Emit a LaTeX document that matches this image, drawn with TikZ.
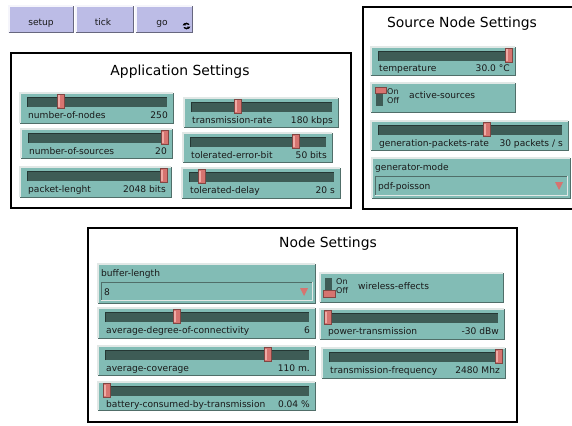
\documentclass[tikz,border=0pt]{standalone}
\usepackage{fontspec}
\setmainfont{DejaVu Sans}
\definecolor{nlteal}{RGB}{130,188,181}
\definecolor{nltrack}{RGB}{62,92,86}
\definecolor{nlthumb}{RGB}{214,116,112}
\definecolor{nlthumbhi}{RGB}{240,170,165}
\definecolor{nlbtn}{RGB}{188,188,230}
\definecolor{nllight}{RGB}{225,232,230}
\definecolor{nldark}{RGB}{80,110,105}
\tikzset{
  x=1pt, y=-1pt,
  grp/.style={draw=black, line width=2pt, fill=white},
  ttl/.style={font=\fontsize{13.9}{16}\selectfont, inner sep=0pt},
  lbl/.style={font=\fontsize{9.1}{11}\selectfont, inner sep=0pt, text=black!90},
  sml/.style={font=\fontsize{8}{8}\selectfont, inner sep=0pt, text=black!90, anchor=west},
  hiedge/.style={draw=nllight, line width=1.2pt},
  loedge/.style={draw=nldark, line width=1pt},
  thumbbox/.style={fill=nlthumb, draw=nlthumb!60!black, line width=0.5pt},
}
% name, x1, y1, x2, y2, thumb x, label, value
\newcommand\nlslider[8]{%
  \fill[nlteal] (#2,#3) rectangle (#4,#5);
  \draw[hiedge] (#2,#5) |- (#4,#3);
  \draw[loedge] (#2,#5) -| (#4,#3);
  \fill[nltrack] (#2+7,#3+4) rectangle (#4-6,#3+14);
  \draw[nltrack!60!black, line width=0.6pt] (#2+7,#3+14) |- (#4-6,#3+4);
  \draw[thumbbox] (#6,#3+1.5) rectangle (#6+7,#3+15);
  \fill[nlthumbhi] (#6+1,#3+2.5) rectangle (#6+2.5,#3+14);
  \node[lbl, anchor=base west] (#1-l) at (#2+8,#3+25) {#7};
  \node[lbl, anchor=base east] (#1-v) at (#4-5,#3+25) {#8};
}
% name, x1, y1, x2, y2, label, on(1)/off(0)
\newcommand\nlswitch[7]{%
  \fill[nlteal] (#2,#3) rectangle (#4,#5);
  \draw[hiedge] (#2,#5) |- (#4,#3);
  \draw[loedge] (#2,#5) -| (#4,#3);
  \fill[nltrack] (#2+5,#3+5) rectangle (#2+12,#3+23);
  \ifnum#7=1
    \draw[thumbbox] (#2+4,#3+4) rectangle (#2+15,#3+10);
  \else
    \draw[thumbbox] (#2+3,#3+17) rectangle (#2+15,#3+24);
  \fi
  \node[sml] (#1-on) at (#2+16,#3+9) {On};
  \node[sml] (#1-off) at (#2+16,#3+18) {Off};
  \node[lbl, anchor=base west] (#1-l) at (#2+38,#3+16) {#6};
}
% name, x1, y1, x2, y2, label, value
\newcommand\nlchooser[7]{%
  \fill[nlteal] (#2,#3) rectangle (#4,#5);
  \draw[hiedge] (#2,#5) |- (#4,#3);
  \draw[loedge] (#2,#5) -| (#4,#3);
  \node[lbl, anchor=base west] (#1-l) at (#2+3,#3+12) {#6};
  \draw[nldark, line width=1pt] (#2+3,#5-3) |- (#4-3,#3+18);
  \draw[nllight, line width=1pt] (#2+3,#5-3) -| (#4-3,#3+18);
  \node[lbl, anchor=base west] (#1-v) at (#2+6,#3+31) {#7};
  \fill[nlthumb] (#4-15,#3+24) -- (#4-7,#3+24) -- (#4-11,#3+32) -- cycle;
}
% name, x1, y1, x2, y2, text, text x
\newcommand\nlbutton[7]{%
  \fill[nlbtn] (#2,#3) rectangle (#4,#5);
  \draw[draw=white!85!nlbtn, line width=1.2pt] (#2,#5) |- (#4,#3);
  \draw[draw=nlbtn!55!black, line width=1pt] (#2,#5) -| (#4,#3);
  \node[lbl, anchor=base] (#1) at (#7,#3+19.5) {#6};
}
\begin{document}
\begin{tikzpicture}
\useasboundingbox (0,0) rectangle (572,425);
\fill[white] (0,0) rectangle (572,425);

% buttons
\nlbutton{setup}{9}{6}{73}{33}{setup}{41}
\nlbutton{tick}{76}{6}{133}{33}{tick}{103}
\nlbutton{go}{136}{6}{192}{33}{go}{162}
% forever icon on the go button
\draw[black, line width=1.4pt] (186.5,26) circle (2.6);
\fill[nlbtn] (183,25.3) rectangle (190,26.7);
\fill[black] (182.6,25.3) -- (186.0,25.3) -- (184.3,23.0) -- cycle;
\fill[black] (187.0,26.7) -- (190.4,26.7) -- (188.7,29.0) -- cycle;

% Application Settings
\draw[grp] (11,53) rectangle (351,208);
\node[ttl] (apptitle) at (180,72) {Application Settings};
\nlslider{nodes}{20}{93}{173}{123}{57}{number-of-nodes}{250}
\nlslider{sources}{21}{129}{172}{158}{161}{number-of-sources}{20}
\nlslider{packet}{20}{167}{171}{197}{160}{packet-lenght}{2048 bits}
\nlslider{trate}{184}{98}{338}{127}{234}{transmission-rate}{180 kbps}
\nlslider{terr}{183}{133}{332}{162}{292}{tolerated-error-bit}{50 bits}
\nlslider{tdelay}{182}{168}{340}{198}{198}{tolerated-delay}{20 s}

% Source Node Settings
\draw[black, line width=2pt, fill=white] (576,7) -- (363,7) -- (363,209) -- (576,209);
\node[ttl] (srctitle) at (462,24) {Source Node Settings};
\nlslider{temp}{371}{47}{515}{76}{505}{temperature}{30.0 °C}
\nlswitch{active}{371}{83}{515}{112}{active-sources}{1}
\nlslider{genrate}{371}{121}{568}{150}{483}{generation-packets-rate}{30 packets / s}
\nlchooser{genmode}{372}{158}{570}{198}{generator-mode}{pdf-poisson}

% Node Settings
\draw[grp] (88,228) rectangle (517,422);
\node[ttl] (nodetitle) at (328,244) {Node Settings};
\nlchooser{buffer}{98}{264}{315}{303}{buffer-length}{8}
\nlslider{degree}{98}{308}{315}{338}{173}{average-degree-of-connectivity}{6}
\nlslider{coverage}{98}{346}{315}{375}{264}{average-coverage}{110 m.}
\nlslider{battery}{98}{382}{315}{410}{103}{battery-consumed-by-transmission}{0.04 \%}
\nlswitch{wireless}{320}{273}{503}{302}{wireless-effects}{0}
\nlslider{power}{320}{309}{504}{339}{324}{power-transmission}{-30 dBw}
\nlslider{freq}{322}{348}{505}{378}{495}{transmission-frequency}{2480 Mhz}
\end{tikzpicture}
\end{document}
